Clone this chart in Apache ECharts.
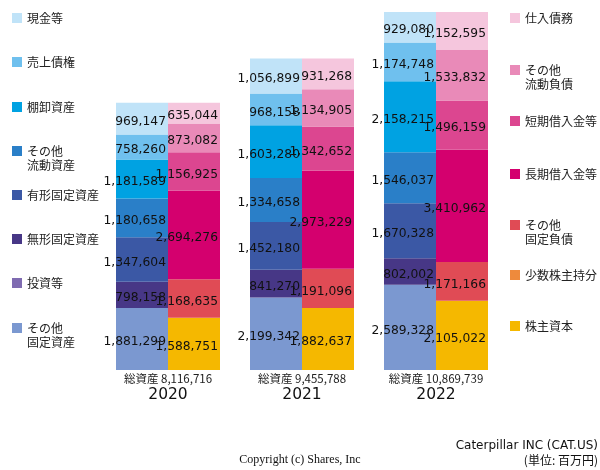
<!DOCTYPE html>
<html>
<head>
<meta charset="utf-8">
<script src="https://cdn.jsdelivr.net/npm/echarts@6/dist/echarts.min.js"></script>
<style>html,body{margin:0;padding:0;background:#fff}#c{width:600px;height:470px}</style>
</head>
<body>
<div id="c"></div>
<script>
// ---- data (millions of yen) ----
const categories = ['2020', '2021', '2022'];
const totalLabels = ['8,116,716', '9,455,788', '10,869,739'];

// assets (bottom to top)
const otherFixedAssets = [1881299, 2199342, 2589328];
const investments = [0, 0, 0];
const intangibleAssets = [798158, 841270, 802002];
const tangibleAssets = [1347604, 1452180, 1670328];
const otherCurrentAssets = [1180658, 1334658, 1546037];
const inventories = [1181589, 1603280, 2158215];
const receivables = [758260, 968158, 1174748];
const cash = [969147, 1056899, 929080];

// liabilities & equity (bottom to top)
const equity = [1588751, 1882637, 2105022];
const minority = [0, 0, 0];
const otherFixedLiab = [1168635, 1191096, 1171166];
const longTermDebt = [2694276, 2973229, 3410962];
const shortTermDebt = [1156925, 1342652, 1496159];
const otherCurrentLiab = [873082, 1134905, 1533832];
const payables = [635044, 931268, 1152595];

const assetSeries = [
  ['その他\n固定資産', otherFixedAssets, '#7b98d0'],
  ['投資等', investments, '#7f6bb1'],
  ['無形固定資産', intangibleAssets, '#473786'],
  ['有形固定資産', tangibleAssets, '#3b58a5'],
  ['その他\n流動資産', otherCurrentAssets, '#2a7fc8'],
  ['棚卸資産', inventories, '#00a2e2'],
  ['売上債権', receivables, '#6fc0ee'],
  ['現金等', cash, '#c0e3f8']
];
const liabSeries = [
  ['株主資本', equity, '#f5b800'],
  ['少数株主持分', minority, '#ee8a3c'],
  ['その他\n固定負債', otherFixedLiab, '#e04b55'],
  ['長期借入金等', longTermDebt, '#d4006e'],
  ['短期借入金等', shortTermDebt, '#dc4690'],
  ['その他\n流動負債', otherCurrentLiab, '#e98ab8'],
  ['仕入債務', payables, '#f5c6dd']
];

const fmt = v => v.toLocaleString('en-US');
const yMax = Math.max(...categories.map((_, i) => assetSeries.reduce((s, a) => s + a[1][i], 0)));

function mkSeries(def, stack) {
  return {
    name: def[0], type: 'bar', stack: stack, data: def[1],
    barWidth: 52, barGap: '0%',
    itemStyle: { color: def[2] },
    label: {
      show: true, position: 'insideRight', distance: 2, offset: [0, 3],
      color: '#111', fontFamily: 'DejaVu Sans', fontSize: 12.3,
      formatter: p => p.value ? fmt(p.value) : ''
    },
    emphasis: { disabled: true }
  };
}

const series = assetSeries.map(d => mkSeries(d, 'assets')).concat(liabSeries.map(d => mkSeries(d, 'liab')));

// legend positions (icon top)
const leftLegend = [
  ['現金等', 13], ['売上債権', 57], ['棚卸資産', 102], ['その他\n流動資産', 146],
  ['有形固定資産', 190], ['無形固定資産', 234], ['投資等', 278], ['その他\n固定資産', 323]
];
const rightLegend = [
  ['仕入債務', 13], ['その他\n流動負債', 65], ['短期借入金等', 116], ['長期借入金等', 169],
  ['その他\n固定負債', 220], ['少数株主持分', 270], ['株主資本', 321]
];
function mkLegend(item, left) {
  const two = item[0].indexOf('\n') >= 0;
  return {
    left: left, top: item[1] - (two ? 16 : 2), data: [item[0]],
    orient: 'vertical', padding: 0, itemWidth: 10, itemHeight: 10, icon: 'rect',
    selectedMode: false,
    formatter: n => (n.indexOf('\n') >= 0 ? '\n' + n : n),
    textStyle: {
      fontFamily: 'Noto Sans CJK JP', fontSize: 12, color: '#222', lineHeight: 14
    }
  };
}
const legends = leftLegend.map(i => mkLegend(i, 12)).concat(rightLegend.map(i => mkLegend(i, 510)));

const chart = echarts.init(document.getElementById('c'), null, { renderer: 'canvas' });
chart.setOption({
  animation: false,
  backgroundColor: '#fff',
  grid: { left: 101, right: 97, top: 12, bottom: 100 },
  legend: legends,
  xAxis: {
    type: 'category', data: categories,
    axisLine: { show: false }, axisTick: { show: false },
    axisLabel: {
      margin: 2, interval: 0,
      formatter: (v, i) => '{a|総資産 ' + totalLabels[i] + '}\n{b|' + v + '}',
      rich: {
        a: { fontFamily: 'Noto Sans CJK JP', fontSize: 11.5, lineHeight: 13, color: '#222' },
        b: { fontFamily: 'DejaVu Sans', fontSize: 15.5, lineHeight: 19, color: '#111' }
      }
    }
  },
  yAxis: { type: 'value', min: 0, max: yMax, show: false, splitLine: { show: false } },
  series: series,
  graphic: [
    { type: 'text', left: 'center', top: 454, style: { text: 'Copyright (c) Shares, Inc', font: '12px "Liberation Serif"', fill: '#111' } },
    { type: 'text', right: 2, top: 440, style: { text: 'Caterpillar INC (CAT.US)', font: '12px "DejaVu Sans"', fill: '#111' } },
    { type: 'text', right: 2, top: 454, style: { text: '(単位: 百万円)', font: '12px "Noto Sans CJK JP"', fill: '#111' } }
  ]
});
</script>
</body>
</html>
